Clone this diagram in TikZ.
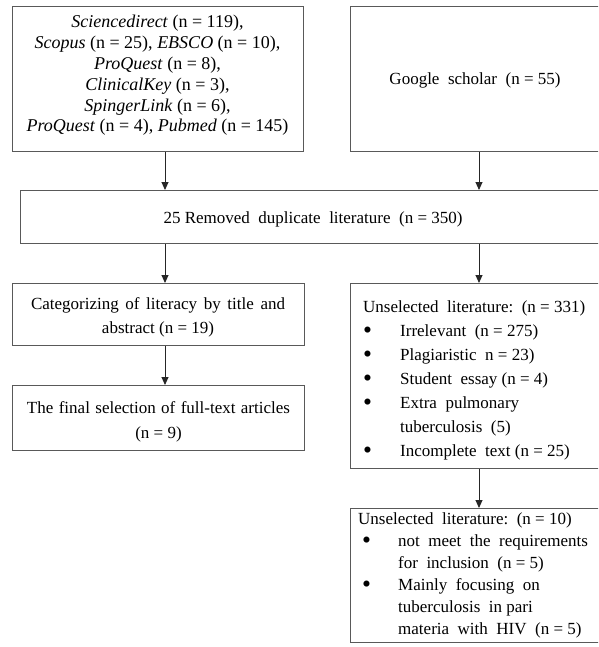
\documentclass[tikz,border=0pt]{standalone}
\usepackage{fontspec}
\setmainfont{Liberation Serif}
\usetikzlibrary{arrows.meta}
\newcommand\bigbul{\raisebox{-0.3ex}{\scalebox{1.5}{\textbullet}}}
\newcommand\bulA{\makebox[37pt][l]{\bigbul}}
\newcommand\bulB{\hspace*{4pt}\makebox[36pt][l]{\bigbul}}
\begin{document}
\begin{tikzpicture}[x=1pt,y=-1pt,
  box/.style={draw=black!65,line width=1.3pt,inner sep=0pt,anchor=north west},
  txt/.style={inner sep=0pt,anchor=base,text=black},
  arr/.style={draw=black!85,line width=0.9pt,-{Triangle[length=8pt,width=7pt]}}]
\useasboundingbox (0,0) rectangle (598,647);
\clip (0,0) rectangle (598,647);
% boxes
\node[box,minimum width=291pt,minimum height=145pt] (b1) at (12,6) {};
\node[box,minimum width=252pt,minimum height=145pt] (b2) at (350,6) {};
\node[box,minimum width=586pt,minimum height=53pt] (b3) at (20,190) {};
\node[box,minimum width=292pt,minimum height=62pt] (b4) at (12,283) {};
\node[box,minimum width=292pt,minimum height=65pt] (b5) at (12,385) {};
\node[box,minimum width=252pt,minimum height=185pt] (b6) at (350,283) {};
\node[box,minimum width=252pt,minimum height=134pt] (b7) at (350,508) {};
% texts (base anchor = baseline of the last line)
\node[txt,align=center,font=\fontsize{18}{20.8}\selectfont] (t1) at (157.5,132)
 {\textit{Sciencedirect} (n = 119),\\
  \textit{Scopus} (n = 25), \textit{EBSCO} (n = 10),\\
  \textit{ProQuest} (n = 8),\\
  \textit{ClinicalKey} (n = 3),\\
  \textit{SpingerLink} (n = 6),\\
  \textit{ProQuest} (n = 4), \textit{Pubmed} (n = 145)};
\node[txt,font=\fontsize{17}{20.8}\selectfont] (t2) at (475,85) {Google\ \ scholar\ \ (n = 55)};
\node[txt,font=\fontsize{17}{20.8}\selectfont] (t3) at (313,223) {25 Removed\ \ duplicate\ \ literature\ \ (n = 350)};
\node[txt,align=center,font=\fontsize{17}{24}\selectfont] (t4) at (158,333)
 {\makebox[254pt][s]{Categorizing of literacy by title and}\\ abstract (n = 19)};
\node[txt,align=center,font=\fontsize{17}{25}\selectfont] (t5) at (158.5,438)
 {\makebox[263pt][s]{The final selection of full-text articles}\\ (n = 9)};
\node[txt,anchor=base west,align=left,font=\fontsize{17}{24}\selectfont] (t6) at (363,456)
 {Unselected\ \ literature:\ \ (n = 331)\\
  \bulA Irrelevant\ \ (n = 275)\\
  \bulA Plagiaristic\ \ n = 23)\\
  \bulA Student\ \ essay (n = 4)\\
  \bulA Extra\ \ pulmonary\\
  \hspace*{37pt}tuberculosis\ \ (5)\\
  \bulA Incomplete\ \ text (n = 25)};
\node[txt,anchor=base west,align=left,font=\fontsize{17}{22}\selectfont] (t7) at (358,634)
 {Unselected\ \ literature:\ \ (n = 10)\\
  \bulB not\ \ meet\ \ the\ \ requirements\\
  \hspace*{40pt}for\ \ inclusion\ \ (n = 5)\\
  \bulB Mainly\ \ focusing\ \ on\\
  \hspace*{40pt}tuberculosis\ \ in pari\\
  \hspace*{40pt}materia\ \ with\ \ HIV\ \ (n = 5)};
% arrows
\coordinate (cx) at (165,0);
\coordinate (rx) at (479,0);
\draw[arr] (b1.south -| cx) -- (b3.north -| cx);
\draw[arr] (b2.south -| rx) -- (b3.north -| rx);
\draw[arr] (b3.south -| cx) -- (b4.north -| cx);
\draw[arr] (b3.south -| rx) -- (b6.north -| rx);
\draw[arr] (b4.south -| cx) -- (b5.north -| cx);
\draw[arr] (b6.south -| rx) -- (b7.north -| rx);
\end{tikzpicture}
\end{document}
